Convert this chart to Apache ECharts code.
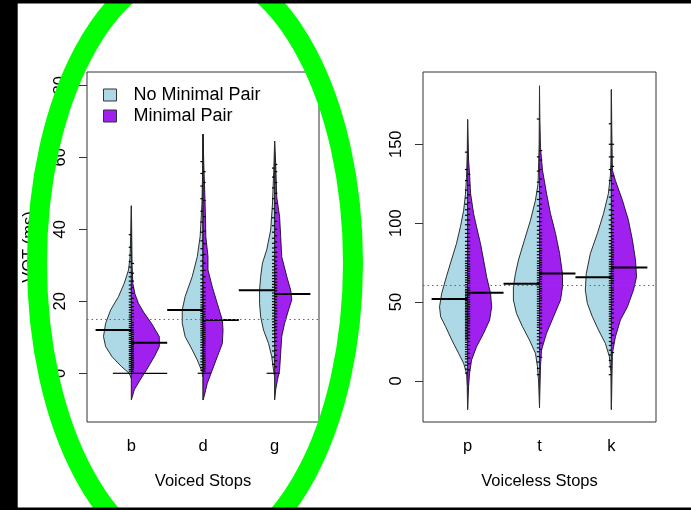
<!DOCTYPE html>
<html><head><meta charset="utf-8">
<script src="https://cdn.jsdelivr.net/npm/echarts@6/dist/echarts.min.js"></script>
<style>html,body{margin:0;padding:0;background:#fff}#c{width:691px;height:510px}</style>
</head><body><div id="c"></div>
<script>
// ---------- categories, ticks, groups ----------
const voicedCats = ['b', 'd', 'g'];
const voicelessCats = ['p', 't', 'k'];
const voicedTicks = [0, 20, 40, 60, 80];
const voicelessTicks = [0, 50, 100, 150];
const groupNames = ['No Minimal Pair', 'Minimal Pair'];

// ---------- bean densities: [VOT ms, half-width in category units] ----------
const densB_no = [[-1.5,0],[0,0.03],[1.9,0.14],[4.6,0.27],[7.4,0.36],[10.2,0.39],[13.9,0.36],[17.6,0.29],[21.3,0.18],[25,0.10],[28.7,0.04],[32,0.02],[38,0.01],[46.5,0]];
const densB_mp = [[-7.4,0],[-4.6,0.04],[-1.9,0.12],[0.9,0.21],[4.6,0.32],[7.4,0.39],[10.2,0.39],[13.9,0.28],[17,0.17],[19.4,0.10],[22,0.05],[25,0.02],[30,0.01],[46.5,0]];
const densD_no = [[-1,0],[0.5,0.014],[3.7,0.08],[6.5,0.15],[10.2,0.25],[13.9,0.29],[17.6,0.29],[21.3,0.25],[26.9,0.15],[32.4,0.08],[38,0.04],[47,0.015],[56.5,0.005],[66.4,0]];
const densD_mp = [[-7.4,0],[-6.5,0.015],[-2.8,0.06],[0.9,0.13],[4.6,0.20],[8.3,0.27],[12,0.28],[14.8,0.27],[19.4,0.20],[24,0.13],[28.7,0.07],[32.4,0.07],[38,0.04],[47,0.03],[59,0.01],[66.4,0]];
const densG_no = [[-1,0],[0.9,0.015],[4.6,0.04],[8.3,0.085],[12,0.155],[15.7,0.195],[19.4,0.21],[23.1,0.21],[26.9,0.195],[30.6,0.17],[34.3,0.11],[39.8,0.055],[47,0.03],[57.4,0.01],[64.5,0]];
const densG_mp = [[-7.4,0],[-4.6,0.015],[-1.9,0.04],[0.9,0.07],[5.6,0.085],[10.2,0.10],[13.9,0.14],[17.6,0.195],[20.4,0.24],[23.1,0.225],[26.9,0.17],[32.4,0.10],[38,0.085],[43.5,0.07],[49,0.03],[58.3,0.015],[64.5,0]];
const densP_no = [[-18,0],[-3.6,0.005],[4.9,0.015],[11.2,0.055],[17.5,0.125],[26,0.22],[34.4,0.305],[40.7,0.375],[47,0.39],[55.5,0.36],[66,0.295],[76.6,0.225],[87,0.155],[97.7,0.10],[108,0.055],[118,0.03],[129,0.015],[145,0.005],[165.6,0]];
const densP_mp = [[-18,0],[-3.6,0.014],[4.9,0.028],[13.3,0.056],[21.7,0.125],[30.2,0.223],[38.6,0.307],[47,0.335],[55.5,0.32],[66,0.265],[76.6,0.223],[87,0.18],[97.7,0.125],[106,0.084],[118.8,0.042],[131,0.028],[140,0.014],[165.6,0]];
const densT_no = [[-17,0],[0.6,0.014],[9,0.028],[17.5,0.056],[26,0.14],[34.4,0.237],[42.8,0.32],[51.3,0.363],[59.7,0.363],[68,0.335],[76.6,0.293],[89.2,0.21],[101.9,0.125],[114.6,0.056],[125,0.02],[150,0.005],[187,0]];
const densT_mp = [[-17,0],[9,0.014],[19.6,0.028],[30.2,0.098],[40.7,0.195],[51.3,0.293],[59.7,0.32],[68,0.32],[80.8,0.28],[93.5,0.223],[106,0.153],[118.8,0.098],[133.5,0.042],[148,0.014],[167,0.005],[187,0]];
const densK_no = [[-18,0],[4.9,0.005],[15.4,0.028],[23.8,0.084],[32.3,0.18],[40.7,0.265],[49.2,0.335],[57.6,0.363],[68,0.35],[80.8,0.293],[93.5,0.195],[106,0.11],[118.8,0.042],[130,0.015],[140,0.005],[184.6,0]];
const densK_mp = [[-18,0],[17.5,0.014],[28,0.056],[38.6,0.125],[47,0.223],[57.6,0.307],[66,0.35],[76.6,0.335],[89.2,0.293],[101.9,0.237],[114.6,0.153],[127,0.056],[133.5,0.014],[161,0.005],[184.6,0]];

// ---------- observations (bean lines), VOT ms ----------
const obsB_no = [0,0,0,0,0,0,0,0.6,1.1,1.7,2.2,2.8,3.3,3.9,4.4,5.0,5.5,6.1,6.6,7.2,7.7,8.3,8.8,9.4,9.9,10.5,11.0,11.6,12.1,12.7,13.2,13.8,14.4,15.0,15.6,16.2,16.9,17.6,18.3,19.0,19.8,20.6,21.5,22.4,23.4,24.5,25.6,26.8,28.0,29.5,31.0,32.8,35.0,38.5];
const obsB_mp = [0,0,0,0,0,0,0,0,0,0,0,0,0,0,0.5,1.0,1.5,2.0,2.5,3.0,3.5,4.0,4.5,5.0,5.5,6.0,6.5,7.0,7.5,8.0,8.5,9.0,9.6,10.2,10.8,11.4,12.0,12.7,13.4,14.1,14.9,15.7,16.6,17.5,18.5,19.6,20.8,22.2,23.8,25.6,27.8,30.5];
const obsD_no = [0,0,0.8,1.6,2.4,3.2,4.0,4.8,5.6,6.4,7.2,7.9,8.6,9.3,10.0,10.6,11.2,11.8,12.4,13.0,13.6,14.2,14.8,15.4,16.0,16.6,17.2,17.8,18.4,19.0,19.7,20.4,21.1,21.8,22.6,23.4,24.3,25.2,26.2,27.3,28.5,29.8,31.2,32.8,34.6,36.8,39.2,42,45,48.5,52,55.5,58.8];
const obsD_mp = [0,0,0,0.6,1.2,1.8,2.4,3.0,3.6,4.2,4.8,5.4,6.0,6.6,7.2,7.8,8.4,9.0,9.6,10.2,10.8,11.4,12.0,12.6,13.2,13.8,14.4,15.0,15.7,16.4,17.1,17.9,18.7,19.6,20.5,21.5,22.6,23.8,25.2,26.8,28.6,30.6,33,36,39.5,43.5,48,53,56];
const obsG_no = [0,0,0,2.5,4.5,6.2,7.6,8.8,9.9,10.9,11.8,12.7,13.5,14.3,15.1,15.9,16.7,17.5,18.3,19.1,19.9,20.7,21.5,22.3,23.1,23.9,24.7,25.5,26.3,27.1,27.9,28.7,29.6,30.5,31.5,32.5,33.6,34.8,36.1,37.5,39.2,41,43.2,45.7,48.5,51.5,54.5,57];
const obsG_mp = [0,0,1.8,3.5,5.0,6.4,7.7,8.9,10.0,11.0,12.0,12.9,13.8,14.7,15.6,16.5,17.3,18.1,18.9,19.7,20.5,21.3,22.1,22.9,23.7,24.5,25.3,26.2,27.1,28.0,29.0,30.0,31.1,32.3,33.6,35.0,36.5,38.2,40.0,42.2,44.6,47.2,50,53,56,58];
const obsP_no = [5,7.5,10,12,14,15.5,17,18.5,20,21.5,23,24.5,26,27,28,29,30,31,32,33,34,35,36,37,38,39,40,41,42,43,44,45,46,47,48,49,50,51,52,53,54,55,56,57,58,59.5,61,62.5,64,65.5,67,68.5,70,71.5,73,74.5,76,78,80,82,84,86,88.5,91,93.5,96,99,102,105,108.5,112,116,121,127,134,145];
const obsP_mp = [7,11,14.5,17.5,20,22.5,25,27,29,31,33,35,36.5,38,39.5,41,42.5,44,45.5,47,48.5,50,51.5,53,54.5,56,57.5,59,60.5,62,63.5,65,66.5,68,69.5,71,72.5,74,76,78,80,82,84,86,88.5,91,93.5,96,99,102,105.5,109,113,118,124,131];
const obsT_no = [4,8,12,15.5,18.5,21,23.5,26,28,30,32,34,35.5,37,38.5,40,41.5,43,44.5,46,47.5,49,50.5,52,53.5,55,56.5,58,59.5,61,62.5,64,65.5,67,68.5,70,71.5,73,74.5,76,78,80,82,84,86,88,90.5,93,95.5,98,101,104,107.5,111,115,120,126,133,142,166];
const obsT_mp = [15,20,24,27.5,30.5,33.5,36,38.5,41,43,45,47,49,51,52.5,54,55.5,57,58.5,60,61.5,63,64.5,66,67.5,69,70.5,72,73.5,75,76.5,78,79.5,81,82.5,84,86,88,90,92,94,96,98.5,101,103.5,106,109,112,115.5,119,123,128,134,140,146];
const obsK_no = [4,9,13,16.5,19.5,22.5,25,27.5,30,32,34,36,38,39.5,41,42.5,44,45.5,47,48.5,50,51.5,53,54.5,56,57.5,59,60.5,62,63.5,65,66.5,68,69.5,71,72.5,74,75.5,77,79,81,83,85,87,89,91.5,94,96.5,99,102,105,108.5,112,116.5,121,127,134,142,150,163];
const obsK_mp = [18,24,29,33,37,40,43,45.5,48,50,52,54,56,57.5,59,60.5,62,63.5,65,66.5,68,69.5,71,72.5,74,75.5,77,78.5,80,81.5,83,84.5,86,88,90,92,94,96,98,100.5,103,105.5,108,111,114,117.5,121,125,130,136,142,150];

// ---------- bean averages and overall averages ----------
const voicedMeanNo = [12.0, 17.6, 23.1];
const voicedMeanMp = [8.5, 14.8, 22.0];
const voicelessMeanNo = [51.9, 61.6, 65.8];
const voicelessMeanMp = [55.9, 68.1, 71.9];
const voicedOverallMean = 15.0;
const voicelessOverallMean = 60.5;

// ---------- assembly ----------
const FONT = "'Liberation Sans', Arial, Helvetica, sans-serif";
const COL_NO = '#ADD8E6', COL_MP = '#A020F0';
const panels = [
  {cats: voicedCats, ticks: voicedTicks, densNo: [densB_no, densD_no, densG_no], densMp: [densB_mp, densD_mp, densG_mp],
   obsNo: [obsB_no, obsD_no, obsG_no], obsMp: [obsB_mp, obsD_mp, obsG_mp], meanNo: voicedMeanNo, meanMp: voicedMeanMp,
   overall: voicedOverallMean, title: 'Voiced Stops', ymin: -13.53, ymax: 83.69},
  {cats: voicelessCats, ticks: voicelessTicks, densNo: [densP_no, densT_no, densK_no], densMp: [densP_mp, densT_mp, densK_mp],
   obsNo: [obsP_no, obsT_no, obsK_no], obsMp: [obsP_mp, obsT_mp, obsK_mp], meanNo: voicelessMeanNo, meanMp: voicelessMeanMp,
   overall: voicelessOverallMean, title: 'Voiceless Stops', ymin: -26.0, ymax: 195.8}
];

function halfBean(densList, side) {
  return function (params, api) {
    const x = api.value(0);
    const dens = densList[params.dataIndex];
    const pts = [api.coord([x, dens[0][0]])];
    dens.forEach(d => pts.push(api.coord([x + side * d[1], d[0]])));
    pts.push(api.coord([x, dens[dens.length - 1][0]]));
    return {type: 'polygon', shape: {points: pts},
      style: {fill: api.visual('color'), stroke: '#000', lineWidth: 0.8}};
  };
}

function beanLines(p) {
  return function (params, api) {
    const i = params.dataIndex;
    const x = api.value(0);
    const children = [];
    const ln = (a, b, w, c) => children.push({type: 'line', shape: {x1: a[0], y1: a[1], x2: b[0], y2: b[1]},
      style: {stroke: c || '#000', lineWidth: w}});
    const dn = p.densNo[i], dm = p.densMp[i];
    const lo = Math.min(dn[0][0], dm[0][0]);
    const hi = Math.max(dn[dn.length - 1][0], dm[dm.length - 1][0]);
    ln(api.coord([x, lo]), api.coord([x, hi]), 1, '#333');
    [[p.obsNo[i], -1], [p.obsMp[i], 1]].forEach(([vals, side]) => {
      const counts = new Map();
      vals.forEach(v => counts.set(v, (counts.get(v) || 0) + 1));
      counts.forEach((c, v) => {
        const len = Math.min(0.5, 0.037 * c);
        ln(api.coord([x, v]), api.coord([x + side * len, v]), 1.2);
      });
    });
    ln(api.coord([x, p.meanNo[i]]), api.coord([x - 0.5, p.meanNo[i]]), 2);
    ln(api.coord([x, p.meanMp[i]]), api.coord([x + 0.5, p.meanMp[i]]), 2);
    return {type: 'group', children};
  };
}

const grids = [
  {left: 87, top: 72, width: 232, height: 350},
  {left: 423, top: 72, width: 233, height: 350}
].map(g => Object.assign(g, {show: true, borderColor: '#333', borderWidth: 1, backgroundColor: 'transparent'}));

const xAxes = panels.map((p, k) => ({
  gridIndex: k, type: 'value', min: 0.38, max: 3.62,
  axisLine: {show: false}, splitLine: {show: false},
  axisTick: {show: true, customValues: [1, 2, 3], length: 8, lineStyle: {color: '#333'}},
  axisLabel: {customValues: [1, 2, 3], formatter: v => p.cats[Math.round(v) - 1], margin: 16,
    fontSize: 16.5, color: '#000', fontFamily: FONT},
  name: p.title, nameLocation: 'middle', nameGap: 51,
  nameTextStyle: {fontSize: 16.5, color: '#000', fontFamily: FONT}
}));

const yAxes = panels.map((p, k) => ({
  gridIndex: k, type: 'value', min: p.ymin, max: p.ymax,
  axisLine: {show: false}, splitLine: {show: false},
  axisTick: {show: true, customValues: p.ticks, length: 8, lineStyle: {color: '#333'}},
  axisLabel: {customValues: p.ticks, rotate: 90, margin: 18, fontSize: 16.5, color: '#000', fontFamily: FONT},
  name: k === 0 ? 'VOT (ms)' : '', nameLocation: 'middle', nameRotate: 90, nameGap: 49,
  nameTextStyle: {fontSize: 16.5, color: '#000', fontFamily: FONT}
}));

const series = [];
panels.forEach((p, k) => {
  const base = {type: 'custom', xAxisIndex: k, yAxisIndex: k, encode: {x: 0, y: 1}, silent: true};
  series.push(Object.assign({}, base, {name: groupNames[0], itemStyle: {color: COL_NO},
    data: p.meanNo.map((m, i) => [i + 1, m]), renderItem: halfBean(p.densNo, -1), z: 2}));
  series.push(Object.assign({}, base, {name: groupNames[1], itemStyle: {color: COL_MP},
    data: p.meanMp.map((m, i) => [i + 1, m]), renderItem: halfBean(p.densMp, 1), z: 2}));
  series.push(Object.assign({}, base, {name: 'beanlines' + k, itemStyle: {color: '#000'},
    data: p.meanNo.map((m, i) => [i + 1, m]), renderItem: beanLines(p), z: 3,
    markLine: {silent: true, symbol: ['none', 'none'], label: {show: false},
      lineStyle: {color: '#666', type: [1.5, 3], width: 1}, data: [{yAxis: p.overall}]}}));
});

const chart = echarts.init(document.getElementById('c'), null, {renderer: 'canvas'});
chart.setOption({
  animation: false,
  backgroundColor: '#fff',
  grid: grids, xAxis: xAxes, yAxis: yAxes, series,
  legend: {
    orient: 'vertical', left: 103, top: 86, padding: 0, itemWidth: 13, itemHeight: 12, itemGap: 3, selectedMode: false,
    data: [
      {name: groupNames[0], icon: 'rect', itemStyle: {color: COL_NO, borderColor: '#333', borderWidth: 1}},
      {name: groupNames[1], icon: 'rect', itemStyle: {color: COL_MP, borderColor: '#333', borderWidth: 1}}
    ],
    textStyle: {fontSize: 18, color: '#000', fontFamily: FONT, padding: [0, 0, 0, 12]}
  },
  graphic: [
    {type: 'ellipse', shape: {cx: 195, cy: 263, rx: 158, ry: 297}, style: {fill: 'none', stroke: '#00ff00', lineWidth: 20}, z: 100, silent: true},
    {type: 'rect', shape: {x: 0, y: 0, width: 17.7, height: 510}, style: {fill: '#000'}, z: 101, silent: true},
    {type: 'rect', shape: {x: 0, y: 0, width: 691, height: 3.4}, style: {fill: '#000'}, z: 101, silent: true},
    {type: 'rect', shape: {x: 0, y: 507.6, width: 691, height: 2.4}, style: {fill: '#000'}, z: 101, silent: true}
  ]
});
</script></body></html>
